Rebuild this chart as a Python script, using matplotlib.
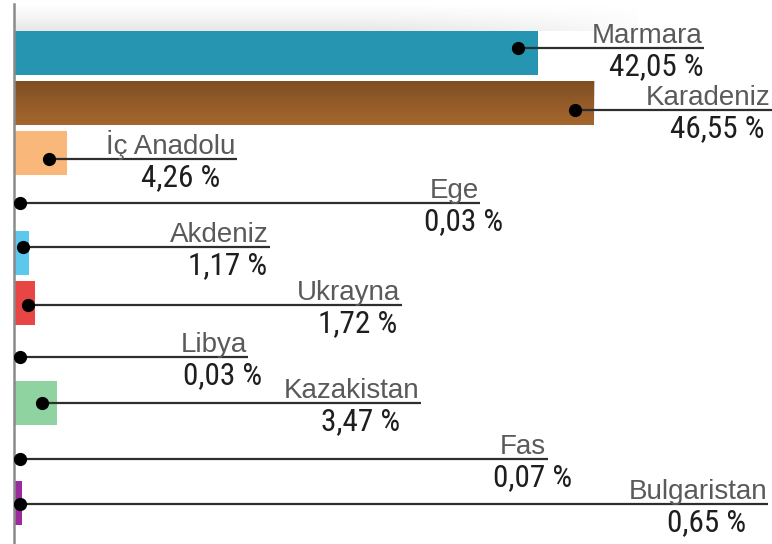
import numpy as np
import matplotlib
matplotlib.use("Agg")
import matplotlib.pyplot as plt
from matplotlib import font_manager

# veriler
regions = ["Marmara", "Karadeniz", "İç Anadolu", "Ege", "Akdeniz",
           "Ukrayna", "Libya", "Kazakistan", "Fas", "Bulgaristan"]
shares = [42.05, 46.55, 4.26, 0.03, 1.17, 1.72, 0.03, 3.47, 0.07, 0.65]
colors = ["#2695b2", "#a3652d", "#f9b77a", "#f2d36b", "#5cc8ee",
          "#e84545", "#c8c8c8", "#8fd3a1", "#b0b0b0", "#9b2a9b"]

# etiket çizgilerinin bittiği yer (x ekseni, %) ve çubuk ortasından kayma
line_end = [55.3, 60.75, 17.9, 37.4, 20.5, 31.1, 18.8, 32.6, 42.8, 60.5]
line_dy = [-0.1, 0.14, 0.11, 0.0, -0.12, 0.04, 0.08, 0.0, 0.12, 0.02]

# yüzdeler için dar yazı tipi varsa onu kullan
names = {f.name for f in font_manager.fontManager.ttflist}
if "Liberation Sans Narrow" in names:
    pct_font = dict(family=["Liberation Sans Narrow", "DejaVu Sans"], fontsize=23)
elif "Roboto Condensed" in names:
    pct_font = dict(family=["Roboto Condensed", "DejaVu Sans"], fontsize=22.5)
else:
    pct_font = dict(family=["Liberation Sans", "DejaVu Sans"], fontsize=19)

fig = plt.figure(figsize=(7.72, 5.44), dpi=100)
ax = fig.add_axes([14 / 772, 0, 1 - 14 / 772, 1])
n = len(regions)
y = np.arange(n)

ax.set_xlim(0, (772 - 14) / 12.47)
ax.set_ylim((544 - 53) / 50, -53 / 50)

# üstteki hafif gölge
grad = np.linspace(0, 1, 50).reshape(-1, 1) ** 1.3
hfade = np.clip(1.15 - np.linspace(0, 1, 200) ** 3, 0, 1).reshape(1, -1)
shade = np.zeros((50, 200, 4))
shade[..., :3] = 0.55
shade[..., 3] = 0.22 * grad * hfade
ax.imshow(shade, extent=(0, 50, -0.45, -1.0), aspect="auto", zorder=0,
          interpolation="bilinear")

bars = ax.barh(y, shares, height=0.89, color=colors, zorder=2)

# kahverengi çubukta üstten koyulaşan geçiş
b = bars[1]
g = np.zeros((40, 2, 4))
g[..., 3] = (np.linspace(0.3, 0.0, 40) ** 1.2).reshape(-1, 1)
x0, y0 = b.get_x(), b.get_y()
im = ax.imshow(g, extent=(x0, x0 + b.get_width(), y0 + b.get_height(), y0),
               aspect="auto", zorder=2.5, interpolation="bilinear")
im.set_clip_path(b)

for i in range(n):
    v = shares[i]
    yy = y[i] + line_dy[i]
    dot = max(v - min(0.35 * v, 1.6), 0.5)
    ax.plot([dot, line_end[i]], [yy, yy], color="#2e2e2e", lw=1.6,
            zorder=3, solid_capstyle="butt")
    ax.plot(dot, yy, "o", color="black", ms=8.5, zorder=4)
    lab = ax.annotate(regions[i], xy=(line_end[i], yy), xytext=(-1, 3.5),
                      textcoords="offset points", ha="right", va="baseline",
                      fontsize=20, color="#5a5a5a", annotation_clip=False,
                      family=["Liberation Sans", "DejaVu Sans"], zorder=5)
    pct = "{:.2f}".format(v).replace(".", ",") + " %"
    ax.annotate(pct, xy=(0.5, 0), xycoords=lab, xytext=(6.5, -2.5),
                textcoords="offset points", ha="center", va="top",
                color="#1e1e1e", zorder=5, **pct_font)

for s in ["top", "right", "bottom"]:
    ax.spines[s].set_visible(False)
ax.spines["left"].set_color("#8a8a8a")
ax.spines["left"].set_linewidth(1.8)
ax.spines["left"].set_bounds(-0.98, (544 - 53) / 50)
ax.set_xticks([])
ax.set_yticks([])

fig.savefig("out.png", dpi=100)
